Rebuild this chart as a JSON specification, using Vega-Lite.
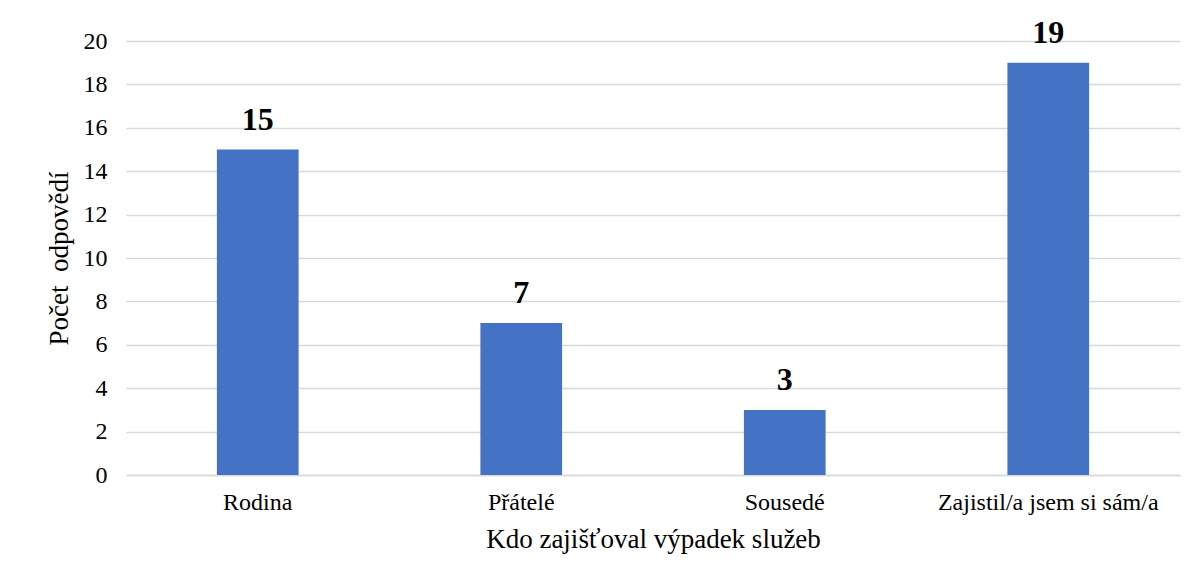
{
  "$schema": "https://vega.github.io/schema/vega-lite/v6.json",
  "width": 1054,
  "height": 434,
  "autosize": {"type": "none"},
  "padding": {"left": 126, "top": 41, "right": 24, "bottom": 105},
  "background": "white",
  "config": {
    "font": "Liberation Serif",
    "view": {"stroke": null}
  },
  "data": {
    "values": [
      {"kategorie": "Rodina", "pocet": 15},
      {"kategorie": "Přátelé", "pocet": 7},
      {"kategorie": "Sousedé", "pocet": 3},
      {"kategorie": "Zajistil/a jsem si sám/a", "pocet": 19}
    ]
  },
  "encoding": {
    "x": {
      "field": "kategorie",
      "type": "nominal",
      "sort": null,
      "scale": {"paddingInner": 0.69, "paddingOuter": 0.345},
      "axis": {
        "title": "Kdo zajišťoval výpadek služeb",
        "titleFont": "Liberation Serif",
        "labelFont": "Liberation Serif",
        "titleFontSize": 27,
        "titleFontWeight": "normal",
        "titleColor": "black",
        "titlePadding": 12,
        "labelAngle": 0,
        "labelFontSize": 24,
        "labelColor": "black",
        "labelPadding": 15,
        "labelLimit": 0,
        "ticks": false,
        "domainColor": "#d9d9d9",
        "domainWidth": 1.5
      }
    },
    "y": {
      "field": "pocet",
      "type": "quantitative",
      "scale": {"domain": [0, 20]},
      "axis": {
        "title": "Počet\u00a0 odpovědí",
        "titleFont": "Liberation Serif",
        "labelFont": "Liberation Serif",
        "titleFontSize": 27,
        "titleFontWeight": "normal",
        "titleColor": "black",
        "titlePadding": 10,
        "values": [0, 2, 4, 6, 8, 10, 12, 14, 16, 18, 20],
        "labelFontSize": 24,
        "labelColor": "black",
        "labelPadding": 19,
        "ticks": false,
        "domain": false,
        "gridColor": "#d9d9d9",
        "gridWidth": 1.5
      }
    }
  },
  "layer": [
    {"mark": {"type": "bar", "color": "#4472C4"}},
    {
      "mark": {
        "type": "text",
        "baseline": "alphabetic",
        "dy": -20,
        "fontSize": 32,
        "fontWeight": "bold",
        "color": "black",
        "font": "Liberation Serif"
      },
      "encoding": {"text": {"field": "pocet", "type": "quantitative"}}
    }
  ]
}
